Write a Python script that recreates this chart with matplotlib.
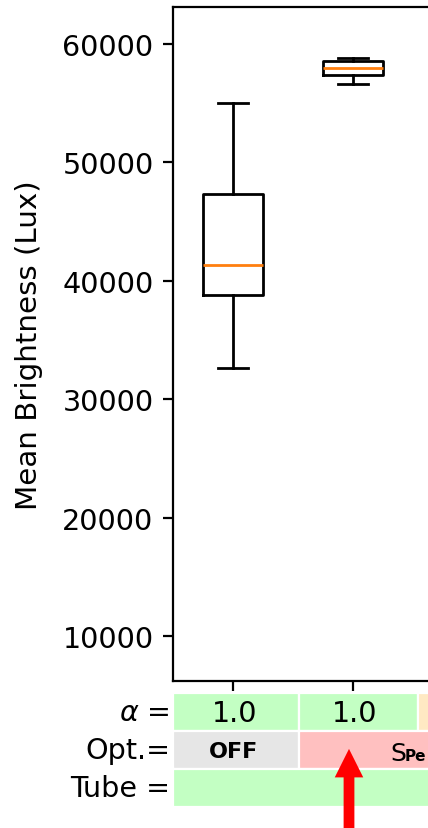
import matplotlib
matplotlib.use("Agg")
import matplotlib.pyplot as plt
from matplotlib.patches import Rectangle, FancyArrow

# Box statistics per configuration (Lux)
positions = [1, 2]
whisker_low = [32600, 56600]
q1 = [38800, 57400]
medians = [41300, 57950]
q3 = [47300, 58600]
whisker_high = [55000, 58850]

alpha_values = ["1.0", "1.0"]
opt_labels = ["OFF", "SPe"]
row_labels = [r"$\alpha$ =", "Opt.=", "Tube ="]
yticks = [10000, 20000, 30000, 40000, 50000, 60000]

W, H, DPI = 428, 829, 200
fig = plt.figure(figsize=(W / DPI, H / DPI), dpi=DPI)

# axes in pixel geometry (extends past the right border)
px_per_unit = 120
ax_left, ax_top, ax_bottom = 173, 8, 682
ax_width_px = 4 * px_per_unit
ax = fig.add_axes([ax_left / W, (H - ax_bottom) / H,
                   ax_width_px / W, (ax_bottom - ax_top) / H])

stats = []
for i in range(len(positions)):
    stats.append(dict(whislo=whisker_low[i], q1=q1[i], med=medians[i],
                      q3=q3[i], whishi=whisker_high[i], fliers=[]))
ax.bxp(stats, positions=positions, widths=0.5, showfliers=False,
       medianprops=dict(color="#ff7f0e"))

ax.set_xlim(0.5, 4.5)
ax.set_ylim(6200, 63125)
ax.set_yticks(yticks)
ax.set_yticklabels([str(v) for v in yticks], fontsize=10.3)
ax.set_xticks(positions)
ax.set_xticklabels([""] * len(positions))
ax.spines["right"].set_visible(False)
ax.set_ylabel("Mean Brightness (Lux)", fontsize=10.6)
ax.yaxis.set_label_coords((43 - ax_left) / ax_width_px, 0.5)


def fig_rect(x0, y0, x1, y1, color):
    """Cell rectangle given in pixel coords (y from top)."""
    r = Rectangle((x0 / W, (H - y1) / H), (x1 - x0) / W, (y1 - y0) / H,
                  transform=fig.transFigure, facecolor=color,
                  edgecolor="white", linewidth=0.8, clip_on=False)
    fig.add_artist(r)


green = "#c3ffc3"
pink = "#ffc0c0"
gray = "#e6e6e6"
orange = "#ffe9c3"

rows_y = [(694, 732), (732, 770), (770, 808)]
# row 1: alpha
fig_rect(173, rows_y[0][0], 299, rows_y[0][1], green)
fig_rect(299, rows_y[0][0], 418, rows_y[0][1], green)
fig_rect(418, rows_y[0][0], 560, rows_y[0][1], orange)
# row 2: optimisation
fig_rect(173, rows_y[1][0], 299, rows_y[1][1], gray)
fig_rect(299, rows_y[1][0], 560, rows_y[1][1], pink)
# row 3: tube
fig_rect(173, rows_y[2][0], 560, rows_y[2][1], green)

trans = matplotlib.transforms.blended_transform_factory(ax.transData, fig.transFigure)
for pos, val in zip(positions, alpha_values):
    fig.text(pos + 0.015, (H - 714) / H, val, transform=trans, ha="center",
             va="center", fontsize=10.3)
fig.text(positions[0], (H - 752) / H, opt_labels[0], transform=trans,
         ha="center", va="center", fontsize=8, fontweight="bold")
fig.text(390 / W, (H - 761) / H, opt_labels[1][0], ha="left", va="baseline",
         fontsize=9)
fig.text(405 / W, (H - 761) / H, opt_labels[1][1:], ha="left", va="baseline",
         fontsize=5.5, fontweight="bold")

for (y0, y1), lab in zip(rows_y, row_labels):
    fig.text(170 / W, (H - (y0 + y1) / 2) / H, lab, ha="right", va="center",
             fontsize=10.3)

# pointer arrow
arrow = FancyArrow(349 / DPI, 0.0, 0, (H - 753) / DPI, width=8 / DPI,
                   head_width=24 / DPI, head_length=24 / DPI,
                   length_includes_head=True, color="red",
                   transform=fig.dpi_scale_trans)
fig.add_artist(arrow)

fig.savefig("out.png", dpi=DPI)
